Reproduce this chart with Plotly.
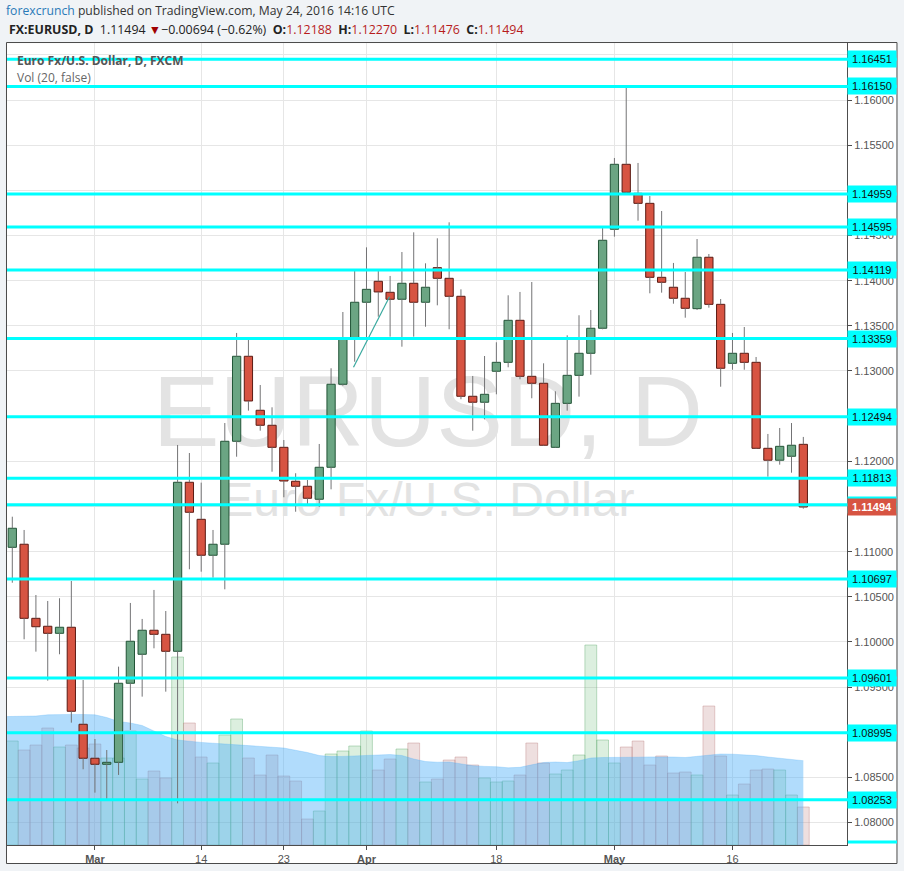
import plotly.graph_objects as go
import pandas as pd

# ---------------- data ----------------
dates = pd.bdate_range("2016-02-19", "2016-05-24")  # 68 daily bars

opens = [1.11048, 1.11082, 1.10262, 1.10174, 1.10096, 1.10163, 1.09089, 1.08713, 1.08646, 1.08668,
         1.09543, 1.09864, 1.10130, 1.10085, 1.09897, 1.11768, 1.11358, 1.10960, 1.11082, 1.12222,
         1.13163, 1.12565, 1.12399, 1.12155, 1.11779, 1.11724, 1.11580, 1.11934, 1.12853, 1.13351,
         1.13761, 1.13993, 1.13871, 1.13794, 1.13971, 1.13761, 1.14144, 1.14026, 1.13827, 1.12720,
         1.12654, 1.12997, 1.13096, 1.13561, 1.12941, 1.12864, 1.12155, 1.12642, 1.12952, 1.13196,
         1.13473, 1.14569, 1.15288, 1.14967, 1.14856, 1.14037, 1.13927, 1.13805, 1.13690, 1.14259,
         1.13738, 1.13085, 1.13196, 1.13096, 1.12144, 1.12012, 1.12056, 1.12188]
highs = [1.11387, 1.11240, 1.10520, 1.10454, 1.10484, 1.10675, 1.09579, 1.08926, 1.08804, 1.09727,
         1.10432, 1.10255, 1.10576, 1.10343, 1.12181, 1.12092, 1.11764, 1.11240, 1.12424, 1.13421,
         1.13343, 1.12845, 1.12598, 1.12236, 1.11868, 1.11793, 1.12192, 1.13030, 1.13653, 1.14110,
         1.14369, 1.14107, 1.14052, 1.14317, 1.14535, 1.14192, 1.14469, 1.14646, 1.13904, 1.12945,
         1.13166, 1.13318, 1.13838, 1.13875, 1.13985, 1.13085, 1.12775, 1.13395, 1.13617, 1.13675,
         1.14583, 1.15358, 1.16150, 1.15303, 1.14937, 1.14771, 1.14196, 1.14096, 1.14461, 1.14295,
         1.13797, 1.13421, 1.13487, 1.13155, 1.12303, 1.12369, 1.12424, 1.12270]
lows = [1.10656, 1.10030, 1.09893, 1.09572, 1.09864, 1.09107, 1.08591, 1.08332, 1.08262, 1.08528,
        1.09026, 1.09395, 1.09930, 1.09450, 1.08214, 1.10805, 1.10778, 1.10712, 1.10583, 1.12051,
        1.12561, 1.12339, 1.11885, 1.11602, 1.11442, 1.11517, 1.11495, 1.11690, 1.12837, 1.13103,
        1.13351, 1.13601, 1.13380, 1.13269, 1.13380, 1.13490, 1.13727, 1.13462, 1.12687, 1.12339,
        1.12465, 1.12742, 1.13041, 1.12908, 1.12698, 1.12170, 1.12148, 1.12561, 1.12716, 1.12959,
        1.13462, 1.14487, 1.14970, 1.14664, 1.13860, 1.13867, 1.13745, 1.13590, 1.13675, 1.13701,
        1.12826, 1.13014, 1.13014, 1.12137, 1.11830, 1.11963, 1.11874, 1.11476]
closes = [1.11259, 1.10262, 1.10169, 1.10096, 1.10163, 1.09233, 1.08713, 1.08646, 1.08668, 1.09543,
          1.10008, 1.10130, 1.10085, 1.09897, 1.11768, 1.11436, 1.10960, 1.11082, 1.12222, 1.13163,
          1.12668, 1.12399, 1.12155, 1.11782, 1.11724, 1.11591, 1.11934, 1.12853, 1.13351, 1.13761,
          1.13904, 1.13875, 1.13794, 1.13971, 1.13761, 1.13927, 1.14026, 1.13827, 1.12720, 1.12654,
          1.12742, 1.13096, 1.13561, 1.12941, 1.12864, 1.12178, 1.12642, 1.12952, 1.13196, 1.13473,
          1.14447, 1.15288, 1.14978, 1.14856, 1.14037, 1.13982, 1.13805, 1.13694, 1.14259, 1.13738,
          1.13030, 1.13196, 1.13096, 1.12144, 1.12012, 1.12166, 1.12178, 1.11494]

# volume (thousands, as shown by the volume pane)
volumes = [104, 95, 100, 117, 98, 100, 97, 101, 87, 87,
           114, 66, 74, 67, 188, 122, 88, 82, 110, 126,
           87, 70, 90, 69, 64, 26, 34, 91, 94, 99,
           114, 75, 86, 96, 102, 63, 66, 85, 88, 80,
           67, 63, 64, 70, 102, 82, 71, 75, 90, 200,
           105, 82, 98, 104, 80, 89, 72, 73, 70, 139,
           89, 50, 61, 75, 76, 75, 50, 38]
# Vol (20) moving average (first value = previous day, Feb 18)
vol_ma = [128.3,
          128.4, 128.6, 129, 130.2, 130.7, 130.6, 130.5, 130.2, 127.5, 123.5,
          122, 119.5, 114, 108.5, 105, 103.5, 102.6, 101.8, 101, 100.4,
          99.7, 99, 98.5, 97, 94.7, 92.5, 89.5, 88.4, 88.6, 88.9,
          89.2, 89.6, 90.5, 89.5, 86, 83.5, 82.8, 83, 81.5, 79.3,
          78.6, 78.3, 77.2, 77.7, 80.2, 82.5, 83, 82.4, 84.3, 87,
          87.5, 87.4, 87.5, 87.8, 88.1, 88.3, 88, 87.5, 88.7, 90.4,
          91, 90.8, 90.4, 89.4, 88, 86.7, 85.5, 84.3]

levels = [1.16451, 1.16150, 1.14959, 1.14595, 1.14119, 1.13359, 1.12494,
          1.11813, 1.11520, 1.10697, 1.09601, 1.08995, 1.08253]
level_offscreen = 1.07786
last_price = 1.11494

tick_dates = ["2016-03-01", "2016-03-14", "2016-03-23", "2016-04-01",
              "2016-04-18", "2016-05-02", "2016-05-16"]
tick_labels = ["<b>Mar</b>", "14", "23", "<b>Apr</b>", "18", "<b>May</b>", "16"]

trend_x = [28.9, 31.95]
trend_y = [1.13041, 1.13822]

# ---------------- derived ----------------
n = len(opens)
xs = list(range(n))
up = [c >= o for o, c in zip(opens, closes)]
body_base = [min(o, c) for o, c in zip(opens, closes)]
body_h = [max(abs(c - o), 0.00003) for o, c in zip(opens, closes)]

wx, wy = [], []
for i, (o, h, l, c) in enumerate(zip(opens, highs, lows, closes)):
    wx += [i, i, None, i, i, None]
    wy += [max(o, c), h, None, l, min(o, c), None]

tick_pos = [dates.get_loc(pd.Timestamp(d)) for d in tick_dates]

AX_FONT = "Liberation Sans, Arial, sans-serif"
UI_FONT = "Open Sans, Liberation Sans, sans-serif"

fig = go.Figure()

# volume bars (base axes)
fig.add_trace(go.Bar(
    x=xs, y=volumes, width=1.0,
    marker=dict(color=["rgba(96,180,110,0.22)" if u else "rgba(200,150,150,0.30)" for u in up],
                line=dict(color=["rgba(96,170,110,0.40)" if u else "rgba(190,130,130,0.40)" for u in up],
                          width=1)),
    xaxis="x", yaxis="y", hoverinfo="skip"))

# volume MA area
fig.add_trace(go.Scatter(
    x=list(range(-1, n)), y=vol_ma, mode="lines", fill="tozeroy",
    line=dict(width=0.6, color="rgba(75,173,247,0.45)"),
    fillcolor="rgba(75,173,247,0.43)", xaxis="x", yaxis="y", hoverinfo="skip"))

# watermark (under the candles)
fig.add_trace(go.Scatter(
    x=[35.2, 35.2], y=[424, 341], mode="text",
    text=["EURUSD, D", "Euro Fx/U.S. Dollar"],
    textposition="middle center",
    textfont=dict(size=[100, 48], color="#e3e3e3", family=AX_FONT),
    xaxis="x", yaxis="y", hoverinfo="skip"))

# wicks
fig.add_trace(go.Scatter(
    x=wx, y=wy, mode="lines", line=dict(color="#737375", width=1),
    xaxis="x", yaxis="y2", hoverinfo="skip"))

# bodies
fig.add_trace(go.Bar(
    x=xs, y=body_h, base=body_base, width=0.7,
    marker=dict(color=["#6ba583" if u else "#d75442" for u in up],
                line=dict(color=["#225437" if u else "#5b1a13" for u in up], width=1)),
    xaxis="x", yaxis="y2", hoverinfo="skip"))

# drawn trend line
fig.add_trace(go.Scatter(
    x=trend_x, y=trend_y, mode="lines", line=dict(color="#3aa99f", width=1.2),
    xaxis="x", yaxis="y2", hoverinfo="skip"))

shapes = [dict(type="rect", xref="paper", yref="paper",
               x0=-0.0006, x1=1.0595, y0=-0.02307, y1=1.0006,
               fillcolor="white", line=dict(color="#4a4a4a", width=1), layer="below")]
for lv in levels:
    shapes.append(dict(type="line", xref="paper", x0=0, x1=1.0595, yref="y2", y0=lv, y1=lv,
                       line=dict(color="#00ffff", width=3), layer="above"))
shapes.append(dict(type="line", xref="paper", x0=1.001, x1=1.0595, yref="y2",
                   y0=level_offscreen, y1=level_offscreen,
                   line=dict(color="#00ffff", width=3), layer="above"))

annotations = []
for lv in levels:
    annotations.append(dict(xref="paper", x=1.0, xanchor="left", yref="y2", y=lv,
                            text=f"{lv:.5f}", showarrow=False, bgcolor="#00ffff",
                            font=dict(size=11, color="#111", family=AX_FONT),
                            width=44, height=12, borderpad=2, align="center"))
annotations.append(dict(xref="paper", x=1.0, xanchor="left", yref="y2", y=last_price,
                        text=f"<b>{last_price:.5f}</b>", showarrow=False, bgcolor="#d75442",
                        font=dict(size=11, color="white", family=AX_FONT),
                        width=44, height=12, borderpad=2, align="center"))

red = "#b71c1c"
header1 = ('<span style="color:#2a7ab8">forexcrunch</span>'
           '<span style="color:#333"> published on TradingView.com, May 24, 2016 14:16 UTC</span>')
header2 = ('<b>FX:EURUSD, D</b>  1.11494 <span style="color:#a00000">▼</span>'
           '\u22120.00694 (\u22120.62%)  '
           f'<b>O:</b><span style="color:{red}">1.12188</span>  '
           f'<b>H:</b><span style="color:{red}">1.12270</span>  '
           f'<b>L:</b><span style="color:{red}">1.11476</span>  '
           f'<b>C:</b><span style="color:{red}">1.11494</span>')
annotations += [
    dict(xref="paper", yref="paper", x=-0.0036, y=1.0405, xanchor="left", yanchor="middle",
         text=header1, showarrow=False, font=dict(size=12.2, color="#333", family=UI_FONT)),
    dict(xref="paper", yref="paper", x=-0.0005, y=1.0168, xanchor="left", yanchor="middle",
         text=header2, showarrow=False, font=dict(size=12.4, color="#222", family=UI_FONT)),
    dict(xref="paper", yref="paper", x=0.0095, y=0.9776, xanchor="left", yanchor="middle",
         text="<b>Euro Fx/U.S. Dollar, D, FXCM</b>", showarrow=False,
         font=dict(size=12, color="#555", family=UI_FONT)),
    dict(xref="paper", yref="paper", x=0.0095, y=0.9564, xanchor="left", yanchor="middle",
         text="Vol (20, false)", showarrow=False,
         font=dict(size=12, color="#666", family=UI_FONT)),
]

fig.update_layout(
    width=904, height=871,
    margin=dict(l=7, r=57, t=43, b=26),
    paper_bgcolor="#f0f3f6", plot_bgcolor="white",
    showlegend=False, barmode="overlay", hovermode=False,
    xaxis=dict(range=[-0.449, 70.70], tickmode="array", tickvals=tick_pos, ticktext=tick_labels,
               showgrid=True, gridcolor="#e6e6e6", gridwidth=1, zeroline=False,
               showline=True, linecolor="#4d4d4d", linewidth=1,
               ticks="outside", ticklen=4, tickcolor="#4d4d4d",
               tickfont=dict(size=11, color="#555", family=AX_FONT)),
    yaxis=dict(range=[0, 802], visible=False),
    yaxis2=dict(overlaying="y", side="right", anchor="x",
                range=[1.077525, 1.166310], tick0=1.0, dtick=0.005, tickformat=".5f",
                showgrid=True, gridcolor="#e6e6e6", gridwidth=1, zeroline=False,
                showline=True, linecolor="#4d4d4d", linewidth=1,
                ticks="outside", ticklen=4, tickcolor="#4d4d4d",
                tickfont=dict(size=11, color="#555", family=AX_FONT)),
    shapes=shapes, annotations=annotations,
)

fig.write_html("out.html", config={"displayModeBar": False},
               post_script="document.body.style.margin='0';document.body.style.background='#f0f3f6';")
